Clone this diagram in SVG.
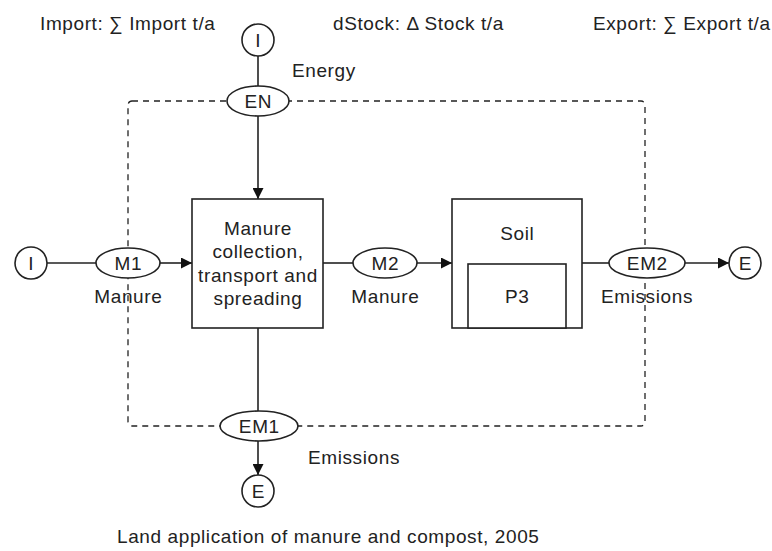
<svg xmlns="http://www.w3.org/2000/svg" width="772" height="551" viewBox="0 0 772 551">
  <defs>
    <marker id="arrow" viewBox="0 0 10 10" refX="10" refY="5" markerWidth="11" markerHeight="11" markerUnits="userSpaceOnUse" orient="auto">
      <path d="M0,0 L10,5 L0,10 Z" fill="#111"/>
    </marker>
    <style>
      text { font-family: "Liberation Sans", Arial, sans-serif; font-size: 19px; letter-spacing: 0.6px; fill: #222; }
      .mid { text-anchor: middle; }
      .shape { fill: #fff; stroke: #222; stroke-width: 1.6; }
      .flow { fill: none; stroke: #222; stroke-width: 1.6; }
      .boundary { fill: none; stroke: #222; stroke-width: 1.3; stroke-dasharray: 6 5; }
    </style>
  </defs>
  <rect width="772" height="551" fill="#fff"/>

  <!-- header balances -->
  <text x="40" y="30">Import: ∑ Import t/a</text>
  <text x="333" y="30">dStock: Δ Stock t/a</text>
  <text x="593" y="30">Export: ∑ Export t/a</text>

  <!-- system boundary -->
  <rect class="boundary" x="128" y="101" width="517" height="325" rx="4"/>

  <!-- connectors -->
  <g id="connectors">
    <line class="flow" x1="258" y1="56" x2="258" y2="86"/>
    <line class="flow" x1="258" y1="116" x2="258" y2="199" marker-end="url(#arrow)"/>
    <line class="flow" x1="47" y1="263" x2="96" y2="263"/>
    <line class="flow" x1="160" y1="263" x2="192" y2="263" marker-end="url(#arrow)"/>
    <line class="flow" x1="323" y1="263" x2="354" y2="263"/>
    <line class="flow" x1="417" y1="263" x2="452" y2="263" marker-end="url(#arrow)"/>
    <line class="flow" x1="582" y1="263" x2="609" y2="263"/>
    <line class="flow" x1="685" y1="263" x2="729" y2="263" marker-end="url(#arrow)"/>
    <line class="flow" x1="258" y1="328" x2="258" y2="411"/>
    <line class="flow" x1="258" y1="441" x2="258" y2="475" marker-end="url(#arrow)"/>
  </g>

  <!-- import / export terminals -->
  <g id="import-top">
    <circle class="shape" cx="258" cy="40" r="16"/>
    <text class="mid" x="258.3" y="47">I</text>
  </g>
  <g id="import-left">
    <circle class="shape" cx="31" cy="263" r="16"/>
    <text class="mid" x="31.3" y="270">I</text>
  </g>
  <g id="export-right">
    <circle class="shape" cx="745" cy="263" r="16"/>
    <text class="mid" x="745.3" y="270">E</text>
  </g>
  <g id="export-bottom">
    <circle class="shape" cx="258" cy="491" r="16"/>
    <text class="mid" x="258.3" y="498">E</text>
  </g>

  <!-- flows -->
  <g id="flow-EN">
    <ellipse class="shape" cx="258" cy="101" rx="31" ry="15"/>
    <text class="mid" x="258.3" y="108">EN</text>
    <text x="292" y="77">Energy</text>
  </g>
  <g id="flow-M1">
    <ellipse class="shape" cx="128" cy="263" rx="32" ry="15"/>
    <text class="mid" x="128.3" y="270">M1</text>
    <text class="mid" x="128.3" y="303">Manure</text>
  </g>
  <g id="flow-M2">
    <ellipse class="shape" cx="385" cy="263" rx="32" ry="15"/>
    <text class="mid" x="385.3" y="270">M2</text>
    <text class="mid" x="385.3" y="303">Manure</text>
  </g>
  <g id="flow-EM2">
    <ellipse class="shape" cx="647" cy="263" rx="38" ry="15"/>
    <text class="mid" x="647.3" y="270">EM2</text>
    <text class="mid" x="647" y="303">Emissions</text>
  </g>
  <g id="flow-EM1">
    <ellipse class="shape" cx="259" cy="426" rx="39" ry="15"/>
    <text class="mid" x="259.3" y="433">EM1</text>
    <text x="308" y="464">Emissions</text>
  </g>

  <!-- processes -->
  <g id="process-handling">
    <rect class="shape" x="192" y="199" width="131" height="129"/>
    <text class="mid" x="258" y="235">Manure</text>
    <text class="mid" x="258" y="258">collection,</text>
    <text class="mid" x="258" y="282">transport and</text>
    <text class="mid" x="258" y="305">spreading</text>
  </g>
  <g id="process-soil">
    <rect class="shape" x="452" y="199" width="130" height="129"/>
    <text class="mid" x="517.3" y="240">Soil</text>
    <rect class="shape" x="468" y="264" width="98" height="64"/>
    <text class="mid" x="517.3" y="303">P3</text>
  </g>

  <text x="117" y="543">Land application of manure and compost, 2005</text>
</svg>
